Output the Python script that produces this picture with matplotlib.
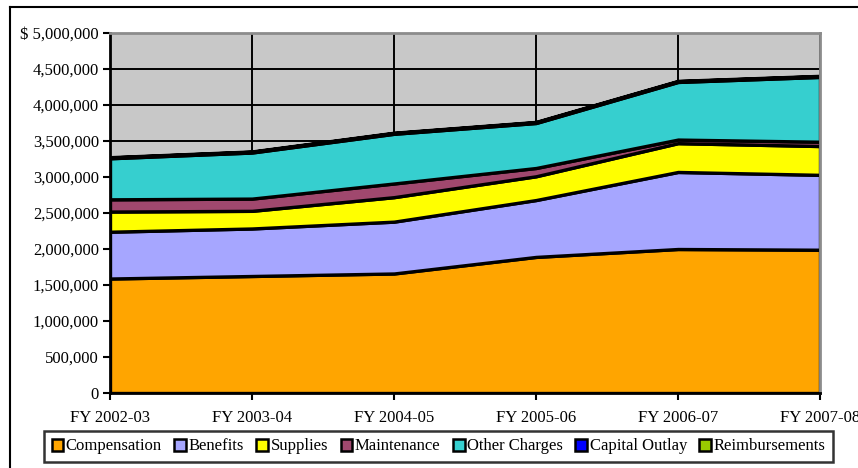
import matplotlib
matplotlib.use("Agg")
import matplotlib.pyplot as plt
from matplotlib.patches import Patch
from matplotlib.lines import Line2D
from matplotlib.ticker import FuncFormatter, MultipleLocator

plt.rcParams['font.family'] = ['Liberation Serif', 'DejaVu Serif']

years = ["FY 2002-03", "FY 2003-04", "FY 2004-05", "FY 2005-06", "FY 2006-07", "FY 2007-08"]
compensation = [1590000, 1625000, 1660000, 1890000, 2000000, 1990000]
benefits = [650000, 660000, 720000, 790000, 1070000, 1040000]
supplies = [280000, 245000, 340000, 330000, 400000, 400000]
maintenance = [170000, 170000, 190000, 115000, 50000, 60000]
other_charges = [570000, 640000, 690000, 625000, 800000, 900000]
capital_outlay = [10000, 10000, 10000, 10000, 10000, 10000]
reimbursements = [5000, 5000, 5000, 5000, 5000, 5000]

series_names = ["Compensation", "Benefits", "Supplies", "Maintenance",
                "Other Charges", "Capital Outlay", "Reimbursements"]
colors = ["#FFA500", "#A6A6FF", "#FFFF00", "#A0486E", "#36CFCF", "#0000FF", "#99CC00"]

fig = plt.figure(figsize=(8.58, 4.68), dpi=100)
ax = fig.add_axes([110/858, 1-393/468, (820-110)/858, (393-33)/468])
ax.set_facecolor("#C8C8C8")

x = list(range(len(years)))
ax.stackplot(x, compensation, benefits, supplies, maintenance, other_charges,
             capital_outlay, reimbursements, colors=colors,
             edgecolor="black", linewidth=2.4, zorder=3)

ax.set_xlim(0, len(years) - 1)
ax.set_ylim(0, 5000000)
ax.yaxis.set_major_locator(MultipleLocator(500000))


def fmt(v, pos):
    s = f"{int(round(v)):,}"
    if v >= 5000000:
        return "$ " + s
    return s


ax.yaxis.set_major_formatter(FuncFormatter(fmt))
ax.set_xticks(x)
ax.set_xticklabels(years)
ax.grid(True, color="black", linewidth=1.4, zorder=1)
ax.set_axisbelow(True)

ax.tick_params(axis='both', direction='out', length=5, width=1.5, color='black',
               labelsize=12, pad=3)
ax.tick_params(axis='x', pad=7)
for s in ["left", "bottom"]:
    ax.spines[s].set_color("black")
    ax.spines[s].set_linewidth(2.0)
    ax.spines[s].set_zorder(5)
for s in ["top", "right"]:
    ax.spines[s].set_color("#8C8C8C")
    ax.spines[s].set_linewidth(2.0)
    ax.spines[s].set_zorder(5)

handles = [Patch(facecolor=c, edgecolor="black", linewidth=1.8) for c in colors]
leg = fig.legend(handles, series_names, ncol=7, loc="center",
                 bbox_to_anchor=(438.5/858, 1-446.5/468),
                 frameon=True, fancybox=False, edgecolor="black",
                 handlelength=0.7, handleheight=0.7, handletextpad=0.15,
                 columnspacing=0.75, borderpad=0.45, fontsize=12)
leg.get_frame().set_linewidth(1.8)

# outer chart border
fig.add_artist(Line2D([10/858, 10/858], [0, 1-7/468], transform=fig.transFigure,
                      color="black", linewidth=1.5))
fig.add_artist(Line2D([10/858, 1], [1-7/468, 1-7/468], transform=fig.transFigure,
                      color="black", linewidth=1.5))

fig.savefig("out.png", dpi=100)
